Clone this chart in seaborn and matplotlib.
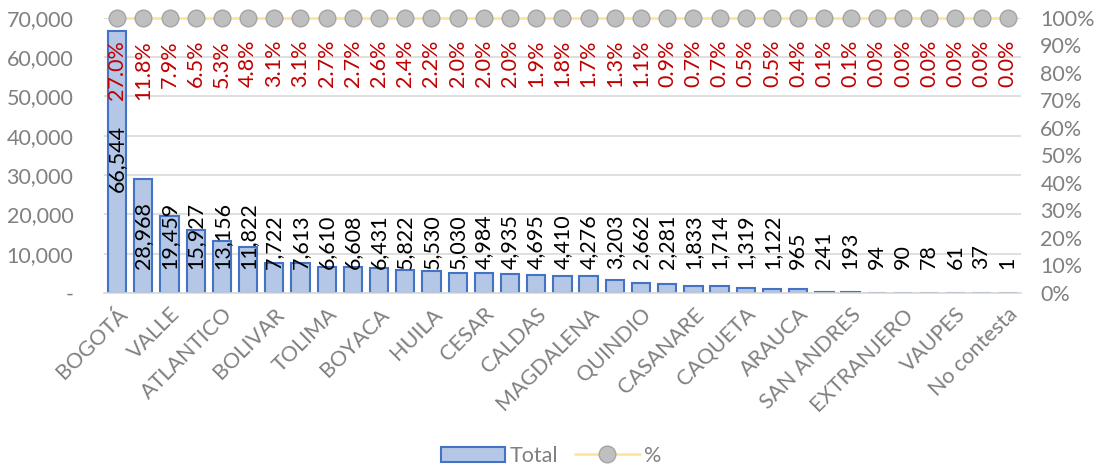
import numpy as np
import matplotlib
matplotlib.use("Agg")
import matplotlib.pyplot as plt
import seaborn as sns
from matplotlib.ticker import FuncFormatter, PercentFormatter
from matplotlib.patches import Patch
from matplotlib.lines import Line2D

# Data
departments = ["BOGOTÁ", "ANTIOQUIA", "VALLE", "CUNDINAMARCA", "ATLANTICO", "SANTANDER",
               "BOLIVAR", "NORTE DE SANTANDER", "TOLIMA", "META", "BOYACA", "CORDOBA",
               "HUILA", "NARIÑO", "CESAR", "RISARALDA", "CALDAS", "CAUCA", "MAGDALENA",
               "SUCRE", "QUINDIO", "LA GUAJIRA", "CASANARE", "CHOCO", "CAQUETA", "PUTUMAYO",
               "ARAUCA", "AMAZONAS", "SAN ANDRES", "GUAVIARE", "EXTRANJERO", "VICHADA",
               "VAUPES", "GUAINIA", "No contesta"]
totals = [66544, 28968, 19459, 15927, 13156, 11822, 7722, 7613, 6610, 6608, 6431, 5822,
          5530, 5030, 4984, 4935, 4695, 4410, 4276, 3203, 2662, 2281, 1833, 1714, 1319,
          1122, 965, 241, 193, 94, 90, 78, 61, 37, 1]
pct_labels = [27.0, 11.8, 7.9, 6.5, 5.3, 4.8, 3.1, 3.1, 2.7, 2.7, 2.6, 2.4, 2.2, 2.0, 2.0,
              2.0, 1.9, 1.8, 1.7, 1.3, 1.1, 0.9, 0.7, 0.7, 0.5, 0.5, 0.4, 0.1, 0.1, 0.0,
              0.0, 0.0, 0.0, 0.0, 0.0]
pct_line = [1.0, 1.0, 1.0, 1.0, 1.0, 1.0, 1.0, 1.0, 1.0, 1.0, 1.0, 1.0, 1.0, 1.0, 1.0,
            1.0, 1.0, 1.0, 1.0, 1.0, 1.0, 1.0, 1.0, 1.0, 1.0, 1.0, 1.0, 1.0, 1.0, 1.0,
            1.0, 1.0, 1.0, 1.0, 1.0]

sns.set_style("white")
plt.rcParams["font.family"] = ["Lato", "DejaVu Sans"]

gray = "#808080"
fs = 15.5
fig = plt.figure(figsize=(11.02, 4.71), dpi=100)
ax = fig.add_axes([0.0944, 0.378, 0.832, 0.584])

sns.barplot(x=departments, y=totals, color="#B4C7E7", edgecolor="#4472C4",
            linewidth=1.5, width=0.7, saturation=1, ax=ax)
ax.set_ylim(0, 70000)
ax.set_xlim(-0.5, len(departments) - 0.5)
ax.set_yticks(np.arange(0, 70001, 10000))
ax.yaxis.set_major_formatter(FuncFormatter(lambda v, p: "-" if v == 0 else f"{v:,.0f}"))
ax.grid(axis="y", color="#D9D9D9", linewidth=1.2)
ax.set_axisbelow(True)
for s in ["top", "right", "left"]:
    ax.spines[s].set_visible(False)
ax.spines["bottom"].set_color("#D9D9D9")
ax.spines["bottom"].set_linewidth(1.2)
ax.tick_params(axis="y", colors=gray, labelsize=fs, length=0, pad=22)
ax.set_xticks(range(0, len(departments), 2))
ax.set_xticklabels(departments[::2], rotation=45, ha="right", rotation_mode="anchor",
                   color=gray, fontsize=fs)
ax.tick_params(axis="x", length=0, pad=8)

# value labels
for i, v in enumerate(totals):
    ypos = 25700 if i == 0 else 6000
    ax.text(i, ypos, f"{v:,}", rotation=90, ha="center", va="bottom",
            fontsize=fs, color="black")

ax2 = ax.twinx()
sns.lineplot(x=np.arange(len(departments)), y=pct_line, ax=ax2, color="#FFE699",
             linewidth=2, marker="o", markersize=12, markerfacecolor="#BFBFBF",
             markeredgecolor="#A5A5A5", markeredgewidth=1)
ax2.set_ylim(0, 1.0)
ax2.set_yticks(np.arange(0, 1.01, 0.1))
ax2.yaxis.set_major_formatter(PercentFormatter(1.0, decimals=0))
ax2.tick_params(axis="y", colors=gray, labelsize=fs, length=0, pad=14)
for s in ax2.spines.values():
    s.set_visible(False)
ax2.set_xlim(-0.5, len(departments) - 0.5)
for ln in ax2.lines:
    ln.set_clip_on(False)

for i, p in enumerate(pct_labels):
    ax2.text(i, 0.92, f"{p:.1f}%", rotation=90, ha="center", va="top",
             fontsize=fs, color="#C00000")

handles = [Patch(facecolor="#B4C7E7", edgecolor="#4472C4", linewidth=1.5),
           Line2D([0], [0], color="#FFE699", linewidth=2, marker="o", markersize=12,
                  markerfacecolor="#BFBFBF", markeredgecolor="#A5A5A5")]
fig.legend(handles, ["Total", "%"], loc="lower center", bbox_to_anchor=(0.5, -0.03),
           ncol=2, frameon=False, fontsize=fs, labelcolor=gray, handlelength=3.0,
           columnspacing=0.8, handletextpad=0.2)

fig.savefig("out.png", dpi=100)
